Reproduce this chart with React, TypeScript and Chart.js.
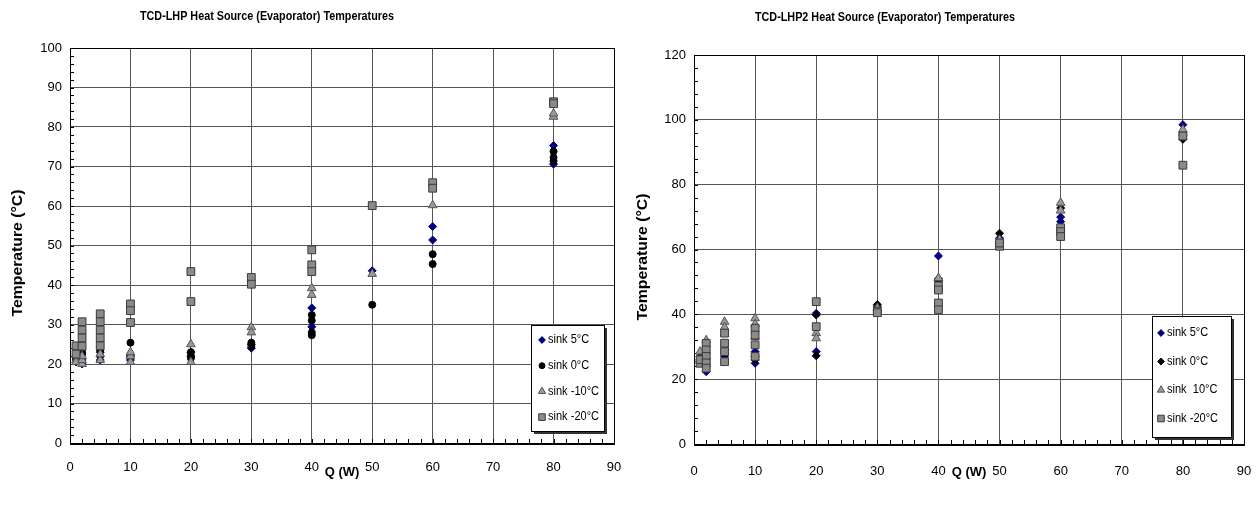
import React, { useEffect, useRef } from "react";
import { Chart, registerables } from "chart.js";
Chart.register(...registerables);

// ---------- Chart 1: TCD-LHP ----------
const lhpTitle = "TCD-LHP Heat Source (Evaporator) Temperatures";
const lhpYTicksMax = 100;
const lhpYStep = 10;
const lhpLabels = ["sink 5°C", "sink 0°C", "sink -10°C", "sink -20°C"];

const lhpQ5 = [1, 1, 2, 2, 5, 5, 10, 10, 20, 20, 30, 30, 40, 40, 50, 60, 60, 80, 80];
const lhpT5 = [20.5, 21.5, 20, 21, 21, 23, 21, 22, 22, 23, 24, 25, 34.2, 29.4, 43.6, 54.8, 51.4, 75.3, 70.6];

const lhpQ0 = [1, 1, 2, 2, 5, 5, 10, 10, 20, 20, 20, 30, 30, 40, 40, 40, 40, 50, 60, 60, 80, 80, 80];
const lhpT0 = [22, 21, 22.5, 23, 22, 23.5, 25.4, 22, 22, 23, 21.5, 25.4, 24.5, 32.4, 31, 28, 27.3, 35, 47.8, 45.3, 73.8, 72.3, 71.4];

const lhpQm10 = [1, 1, 2, 2, 2, 5, 5, 10, 10, 10, 20, 20, 30, 30, 40, 40, 50, 60, 80, 80];
const lhpTm10 = [21, 20.5, 20, 21, 22, 21, 22.5, 20.5, 22, 23, 25, 20.5, 29.3, 28, 39.2, 37.5, 42.8, 60.2, 82.6, 83.4];

const lhpQm20 = [1, 1, 2, 2, 2, 2, 5, 5, 5, 5, 5, 10, 10, 10, 20, 20, 30, 30, 40, 40, 40, 50, 60, 60, 80, 80];
const lhpTm20 = [24.6, 22.5, 30.7, 28.6, 26.6, 24.5, 32.7, 30.7, 28.6, 26.6, 24.6, 35.2, 33.5, 30.5, 43.4, 35.8, 41.9, 40.2, 48.9, 45.1, 43.4, 60.1, 65.9, 64.5, 86.4, 85.9];

// ---------- Chart 2: TCD-LHP2 ----------
const lhp2Title = "TCD-LHP2 Heat Source (Evaporator) Temperatures";
const lhp2YTicksMax = 120;
const lhp2YStep = 20;
const lhp2Labels = ["sink 5°C", "sink 0°C", "sink  10°C", "sink -20°C"];

const lhp2Q5 = [1, 2, 2, 5, 5, 10, 10, 20, 20, 30, 40, 40, 50, 60, 60, 80, 80];
const lhp2T5 = [26, 22.3, 24, 27, 29, 28.5, 24.9, 40.3, 28.5, 42.5, 58, 50, 63.5, 68.6, 70, 98.5, 96];

const lhp2Q0 = [1, 2, 5, 10, 10, 20, 20, 30, 40, 40, 50, 60, 80, 80];
const lhp2T0 = [27, 25, 28, 25.9, 27, 39.8, 27.2, 43, 51, 50.5, 65, 72.8, 94, 95];

const lhp2Qm10 = [1, 1, 2, 2, 5, 5, 5, 5, 10, 10, 10, 20, 20, 30, 40, 40, 50, 60, 60, 80, 80];
const lhp2Tm10 = [28.5, 26, 32, 27, 37.7, 36, 34, 30, 38.8, 37, 33, 34.2, 32.6, 42, 51.2, 48, 63, 74.4, 72, 96, 97];

const lhp2Qm20 = [1, 1, 2, 2, 2, 2, 2, 5, 5, 5, 5, 10, 10, 10, 10, 20, 20, 30, 30, 40, 40, 40, 40, 50, 50, 60, 60, 60, 80, 80];
const lhp2Tm20 = [24.9, 26, 31, 29, 27, 25, 23.4, 34.2, 31.1, 28.5, 25.4, 35.7, 33.6, 30.6, 27, 43.9, 36.2, 41, 40.5, 48.8, 47.5, 43.5, 41.4, 61, 62, 66.7, 65.5, 64, 95, 86];

// ---------- shared ----------
const xTickMax = 90;
const xStep = 10;
const xAxisTitle = "Q (W)";
const yAxisTitle = "Temperature (°C)";

const FONT = "'Liberation Sans', Arial, sans-serif";

type Style = { shape: string; r: number; fill: string; stroke: string };

function toPoints(xs: number[], ys: number[]) {
  return xs.map((x, i) => ({ x, y: ys[i] }));
}

function drawMarker(ctx: CanvasRenderingContext2D, s: Style, x: number, y: number, scale = 1) {
  const r = s.r * scale;
  ctx.beginPath();
  if (s.shape === "rectRot") {
    ctx.moveTo(x, y - r);
    ctx.lineTo(x + r, y);
    ctx.lineTo(x, y + r);
    ctx.lineTo(x - r, y);
    ctx.closePath();
  } else if (s.shape === "circle") {
    ctx.arc(x, y, r, 0, Math.PI * 2);
  } else if (s.shape === "triangle") {
    ctx.moveTo(x, y - r);
    ctx.lineTo(x + r * 0.87, y + r * 0.5);
    ctx.lineTo(x - r * 0.87, y + r * 0.5);
    ctx.closePath();
  } else {
    const h = r * 0.707;
    ctx.rect(x - h, y - h, 2 * h, 2 * h);
  }
  ctx.fillStyle = s.fill;
  ctx.fill();
  ctx.strokeStyle = s.stroke;
  ctx.lineWidth = 1;
  ctx.stroke();
}

const decorPlugin = {
  id: "decor",
  beforeDatasetsDraw(chart: any, _a: any, opts: any) {
    const { ctx, chartArea: ca, scales } = chart;
    ctx.save();
    ctx.strokeStyle = "#000";
    ctx.lineWidth = 1;
    // minor ticks
    ctx.beginPath();
    for (let v = 0; v <= opts.yMax; v += opts.yMinor) {
      const py = Math.round(scales.y.getPixelForValue(v)) + 0.5;
      ctx.moveTo(ca.left, py);
      ctx.lineTo(ca.left + 4, py);
    }
    for (let v = 0; v <= xTickMax; v += 2) {
      const px = Math.round(scales.x.getPixelForValue(v)) + 0.5;
      ctx.moveTo(px, ca.bottom);
      ctx.lineTo(px, ca.bottom - 4);
    }
    ctx.stroke();
    // frame
    ctx.strokeRect(Math.round(ca.left) + 0.5, Math.round(ca.top) + 0.5, Math.round(ca.right - ca.left), Math.round(ca.bottom - ca.top));
    ctx.lineWidth = 2;
    ctx.beginPath();
    ctx.moveTo(ca.left, Math.round(ca.bottom) + 1);
    ctx.lineTo(ca.right + 1, Math.round(ca.bottom) + 1);
    ctx.stroke();
    ctx.restore();
  },
  afterDraw(chart: any, _a: any, opts: any) {
    const { ctx, chartArea: ca } = chart;
    ctx.save();
    ctx.fillStyle = "#000";
    ctx.textAlign = "center";
    ctx.textBaseline = "middle";
    // chart title
    ctx.font = `bold 13px ${FONT}`;
    ctx.save();
    ctx.translate(opts.titleX, opts.titleY);
    ctx.scale(0.83, 1);
    ctx.fillText(opts.title, 0, 0);
    ctx.restore();
    // y axis title
    ctx.font = `bold 15px ${FONT}`;
    ctx.save();
    ctx.translate(opts.yTitleX, opts.yTitleY);
    ctx.rotate(-Math.PI / 2);
    ctx.scale(1.05, 1);
    ctx.fillText(yAxisTitle, 0, 0);
    ctx.restore();
    // legend box
    const b = opts.legend;
    const x0 = ca.right - b.right - b.w;
    const y0 = ca.bottom - b.bottom - b.h;
    ctx.fillStyle = "#333";
    ctx.fillRect(x0 + 3, y0 + 3, b.w, b.h);
    ctx.fillStyle = "#fff";
    ctx.fillRect(x0, y0, b.w, b.h);
    ctx.strokeStyle = "#000";
    ctx.lineWidth = 1;
    ctx.strokeRect(Math.round(x0) + 0.5, Math.round(y0) + 0.5, b.w, b.h);
    ctx.font = `12px ${FONT}`;
    ctx.textAlign = "left";
    chart.data.datasets.forEach((ds: any, i: number) => {
      const cy = y0 + b.first + i * b.gap;
      drawMarker(ctx, ds.markerStyle, x0 + b.mx, cy, 0.85);
      ctx.fillStyle = "#000";
      ctx.save();
      ctx.translate(x0 + b.tx, cy);
      ctx.scale(0.92, 1);
      ctx.fillText(ds.label, 0, 0);
      ctx.restore();
    });
    ctx.restore();
  },
};

function makeDataset(label: string, xs: number[], ys: number[], s: Style, order: number) {
  return {
    label,
    data: toPoints(xs, ys),
    pointStyle: s.shape === "square" ? "rect" : s.shape,
    pointRadius: s.r,
    pointBackgroundColor: s.fill,
    pointBorderColor: s.stroke,
    pointBorderWidth: 1,
    showLine: false,
    order,
    markerStyle: s,
  };
}

const sBlue: Style = { shape: "rectRot", r: 4, fill: "#000080", stroke: "#000080" };
const sCircle: Style = { shape: "circle", r: 3.5, fill: "#000", stroke: "#000" };
const sBlackDiamond: Style = { shape: "rectRot", r: 4, fill: "#000", stroke: "#000" };
const sTri: Style = { shape: "triangle", r: 5, fill: "#999", stroke: "#555" };
const sSq: Style = { shape: "square", r: 5.5, fill: "#8a8a8a", stroke: "#3a3a3a" };

function buildConfig(p: any) {
  return {
    type: "scatter",
    data: { datasets: p.datasets },
    plugins: [decorPlugin],
    options: {
      responsive: false,
      animation: false,
      layout: { padding: { top: p.top, right: p.right, left: 0, bottom: 0 } },
      scales: {
        x: {
          type: "linear",
          min: 0,
          max: xTickMax,
          ticks: { stepSize: xStep, padding: p.xTickPad, color: "#000", font: { family: FONT, size: 13 } },
          grid: { color: "#555", drawTicks: false, lineWidth: 1 },
          border: { display: false },
          title: { display: true, text: xAxisTitle, color: "#000", font: { family: FONT, size: 13, weight: "bold" }, padding: { top: 0, bottom: 28 } },
          afterFit: (s: any) => {
            s.height = p.xAxisH;
            s.paddingLeft = 0;
            s.paddingRight = 0;
          },
        },
        y: {
          type: "linear",
          min: 0,
          max: p.yMax,
          ticks: { stepSize: p.yStep, padding: 8, color: "#000", font: { family: FONT, size: 13 } },
          grid: { color: "#555", drawTicks: false, lineWidth: 1 },
          border: { display: false },
          title: { display: false },
          afterFit: (s: any) => {
            s.width = p.yAxisW;
            s.paddingTop = 0;
            s.paddingBottom = 0;
          },
        },
      },
      plugins: {
        legend: { display: false },
        tooltip: { enabled: false },
        decor: {
          title: p.title,
          titleX: p.titleX,
          titleY: p.titleY,
          yTitleX: p.yTitleX,
          yTitleY: p.yTitleY,
          yMax: p.yMax,
          yMinor: p.yMinor,
          legend: p.legend,
        },
      },
    },
  };
}

function Panel({ p }: { p: any }) {
  const ref = useRef<HTMLCanvasElement | null>(null);
  useEffect(() => {
    const chart = new Chart(ref.current as HTMLCanvasElement, buildConfig(p) as any);
    return () => chart.destroy();
  }, []);
  return (
    <canvas
      ref={ref}
      width={p.w}
      height={508}
      style={{ position: "absolute", left: p.left, top: 0, width: p.w, height: 508 }}
    />
  );
}

const leftPanel = {
  left: 0,
  w: 630,
  top: 48,
  right: 16,
  xAxisH: 65,
  xTickPad: 17,
  yAxisW: 70,
  yTitleX: 18,
  yTitleY: 253,
  yMax: lhpYTicksMax,
  yStep: lhpYStep,
  yMinor: 2,
  title: lhpTitle,
  titleX: 267,
  titleY: 16,
  legend: { w: 73, h: 106, right: 10, bottom: 12, first: 15, gap: 25.7, mx: 11, tx: 17 },
  datasets: [
    makeDataset(lhpLabels[0], lhpQ5, lhpT5, sBlue, 4),
    makeDataset(lhpLabels[1], lhpQ0, lhpT0, sCircle, 3),
    makeDataset(lhpLabels[2], lhpQm10, lhpTm10, sTri, 2),
    makeDataset(lhpLabels[3], lhpQm20, lhpTm20, sSq, 1),
  ],
};

const rightPanel = {
  left: 630,
  w: 629,
  top: 55,
  right: 15,
  xAxisH: 64,
  xTickPad: 20,
  yAxisW: 64,
  yTitleX: 13,
  yTitleY: 257,
  yMax: lhp2YTicksMax,
  yStep: lhp2YStep,
  yMinor: 4,
  title: lhp2Title,
  titleX: 255,
  titleY: 17,
  legend: { w: 79, h: 121, right: 13, bottom: 7, first: 17, gap: 28.5, mx: 9, tx: 15 },
  datasets: [
    makeDataset(lhp2Labels[0], lhp2Q5, lhp2T5, sBlue, 4),
    makeDataset(lhp2Labels[1], lhp2Q0, lhp2T0, sBlackDiamond, 3),
    makeDataset(lhp2Labels[2], lhp2Qm10, lhp2Tm10, sTri, 2),
    makeDataset(lhp2Labels[3], lhp2Qm20, lhp2Tm20, sSq, 1),
  ],
};

export default function App() {
  return (
    <div style={{ position: "absolute", left: 0, top: 0, width: 1259, height: 508, background: "#fff" }}>
      <Panel p={leftPanel} />
      <Panel p={rightPanel} />
    </div>
  );
}
